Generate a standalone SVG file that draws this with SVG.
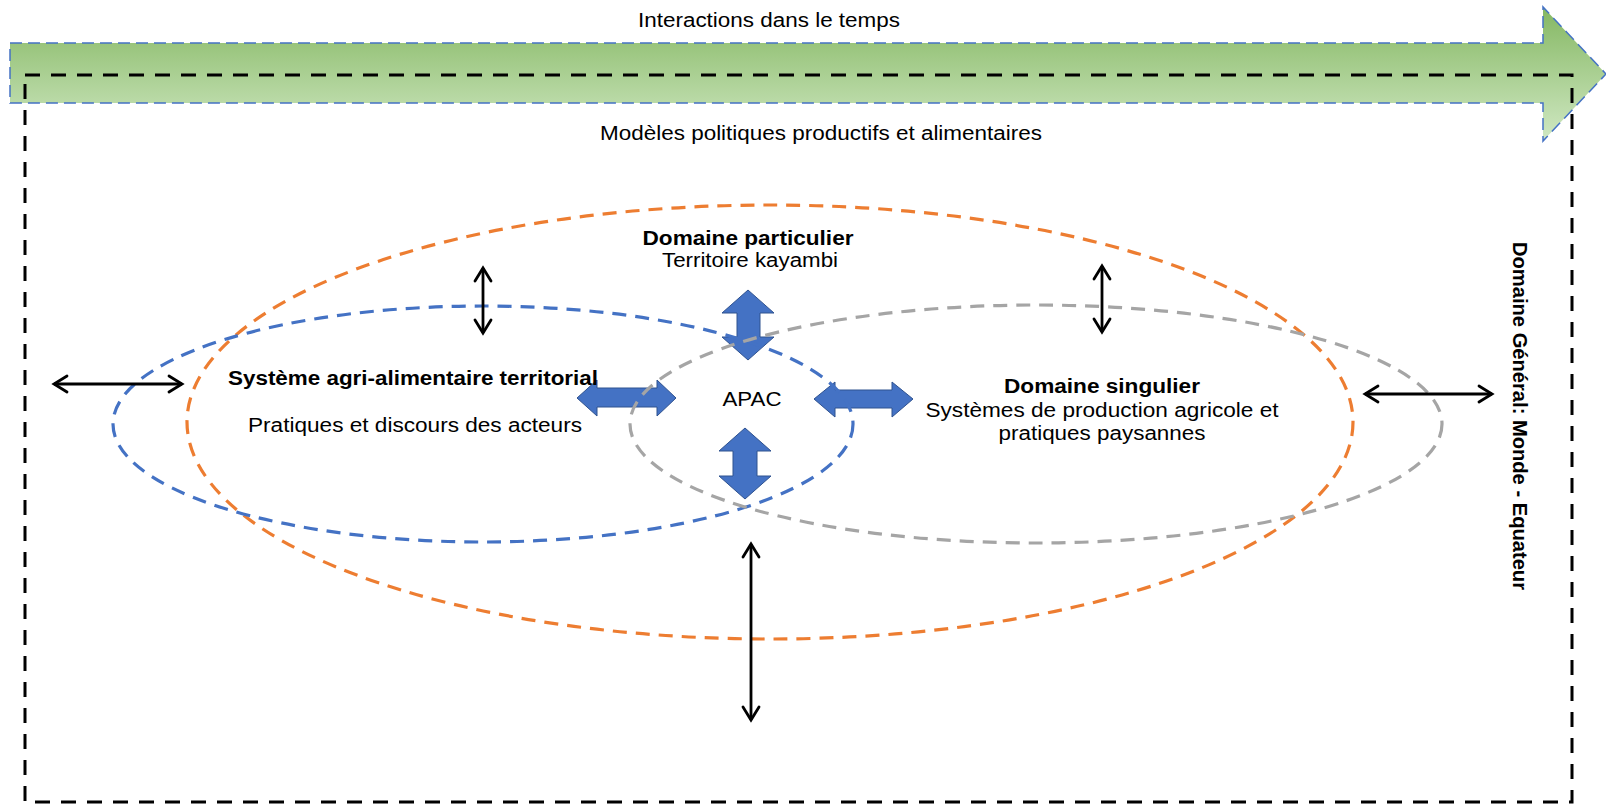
<svg xmlns="http://www.w3.org/2000/svg" width="1606" height="805" viewBox="0 0 1606 805">
<style>
  text { font-family: "Liberation Sans", Arial, sans-serif; font-size: 20px; fill: #000; }
  .b { font-weight: bold; }
  .ell { fill: none; stroke-width: 3.2; stroke-dasharray: 14 9; }
  .blk { fill: #4472C4; stroke: #2F528F; stroke-width: 1; }
  .dbl { fill: none; stroke: #000; stroke-width: 2.8; marker-start: url(#chev); marker-end: url(#chev); }
</style>
<defs>
  <linearGradient id="gArrow" gradientUnits="userSpaceOnUse" x1="0" y1="7" x2="0" y2="141">
    <stop offset="0" stop-color="#84B762"/>
    <stop offset="1" stop-color="#D0E8C3"/>
  </linearGradient>
  <marker id="chev" viewBox="-16 -10 18 20" refX="0" refY="0" markerWidth="18" markerHeight="20" markerUnits="userSpaceOnUse" orient="auto-start-reverse" overflow="visible">
    <path d="M-13,-8 L0,0 L-13,8" fill="none" stroke="#000" stroke-width="2.8" stroke-linecap="round" stroke-linejoin="miter"/>
  </marker>
</defs>
<rect width="1606" height="805" fill="#fff"/>

<g id="timeline">
  <path d="M10,43 L1543,43 L1543,7 L1606,74 L1543,141 L1543,103 L10,103 Z" fill="url(#gArrow)" stroke="#4472C4" stroke-width="1.5" stroke-dasharray="12 6"/>
  <text x="769" y="27" text-anchor="middle" textLength="262" lengthAdjust="spacingAndGlyphs">Interactions dans le temps</text>
</g>

<g id="domaine-general">
  <rect x="25" y="75" width="1547" height="727" fill="none" stroke="#000" stroke-width="3" stroke-dasharray="15 11"/>
  <text x="821" y="140" text-anchor="middle" textLength="442" lengthAdjust="spacingAndGlyphs">Modèles politiques productifs et alimentaires</text>
  <text class="b" transform="translate(1513,416) rotate(90)" x="0" y="0" text-anchor="middle" textLength="348" lengthAdjust="spacingAndGlyphs">Domaine Général: Monde - Equateur</text>
</g>

<g id="apac-arrows">
  <path class="blk" d="M748,290 L774,313 L760,313 L760,337 L774,337 L748,360 L722,337 L737,337 L737,313 L722,313 Z"/>
  <path class="blk" d="M745,428 L771,451 L757,451 L757,476 L771,476 L745,499 L719,476 L733,476 L733,451 L719,451 Z"/>
  <path class="blk" d="M577,398 L597,380 L597,388 L657,388 L657,380 L676,398 L657,416 L657,407 L597,407 L597,416 Z"/>
  <path class="blk" d="M814,399 L835,382 L835,390 L892,390 L892,382 L913,399 L892,417 L892,408 L835,408 L835,417 Z"/>
</g>

<g id="domaine-particulier">
  <ellipse class="ell" cx="770" cy="422" rx="583" ry="217" stroke="#ED7D31"/>
  <text class="b" x="748" y="245" text-anchor="middle" textLength="211" lengthAdjust="spacingAndGlyphs">Domaine particulier</text>
  <text x="750" y="267" text-anchor="middle" textLength="176" lengthAdjust="spacingAndGlyphs">Territoire kayambi</text>
</g>

<g id="systeme-agri">
  <ellipse class="ell" cx="483" cy="424" rx="370" ry="118" stroke="#4472C4"/>
  <text class="b" x="413" y="385" text-anchor="middle" textLength="370" lengthAdjust="spacingAndGlyphs">Système agri-alimentaire territorial</text>
  <text x="415" y="432" text-anchor="middle" textLength="334" lengthAdjust="spacingAndGlyphs">Pratiques et discours des acteurs</text>
</g>

<g id="domaine-singulier">
  <ellipse class="ell" cx="1036" cy="424" rx="406" ry="119" stroke="#A5A5A5"/>
  <text class="b" x="1102" y="393" text-anchor="middle" textLength="196" lengthAdjust="spacingAndGlyphs">Domaine singulier</text>
  <text x="1102" y="417" text-anchor="middle" textLength="353" lengthAdjust="spacingAndGlyphs">Systèmes de production agricole et</text>
  <text x="1102" y="440" text-anchor="middle" textLength="207" lengthAdjust="spacingAndGlyphs">pratiques paysannes</text>
</g>

<g id="apac">
  <text x="752" y="406" text-anchor="middle" textLength="59" lengthAdjust="spacingAndGlyphs">APAC</text>
</g>

<g id="connectors">
  <line class="dbl" x1="54" y1="384" x2="182" y2="384"/>
  <line class="dbl" x1="1365" y1="394" x2="1492" y2="394"/>
  <line class="dbl" x1="483" y1="268" x2="483" y2="333"/>
  <line class="dbl" x1="1102" y1="266" x2="1102" y2="332"/>
  <line class="dbl" x1="751" y1="544" x2="751" y2="720"/>
</g>
</svg>
